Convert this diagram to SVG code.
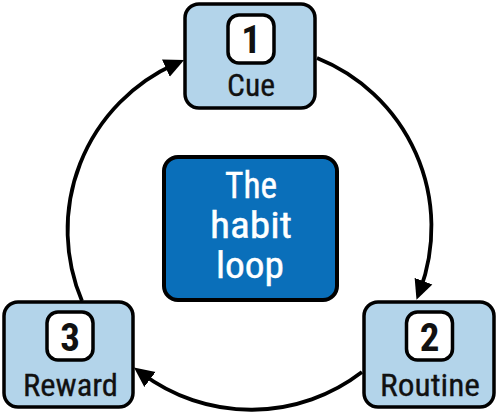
<svg xmlns="http://www.w3.org/2000/svg" width="498" height="412" viewBox="0 0 498 412">
  <defs>
    <marker id="head" markerUnits="userSpaceOnUse" markerWidth="20" markerHeight="20" viewBox="0 0 18 17" refX="9" refY="8.5" orient="auto">
      <path d="M0,0 L18,8.5 L0,17 Z" fill="#000"/>
    </marker>
    <style>
      .step { fill: #b3d4ea; stroke: #000; stroke-width: 3.5; }
      .badge { fill: #fff; stroke: #000; stroke-width: 3.5; }
      .core { fill: #0a6fba; stroke: #000; stroke-width: 4; }
      .lbl { font-family: "Liberation Sans Narrow", "Roboto Condensed", "DejaVu Sans Condensed", sans-serif; font-stretch: condensed; text-anchor: middle; fill: #111; stroke: #111; stroke-width: 0.3; }
      .num { font-size: 39px; font-weight: bold; stroke-width: 0; }
      .name { font-size: 32px; }
      .big { font-size: 36px; fill: #fff; stroke: #fff; stroke-width: 0.4; }
      .arc { fill: none; stroke: #000; stroke-width: 3.8; marker-end: url(#head); }
    </style>
  </defs>

  <!-- connectors: arcs of the loop -->
  <g id="connectors">
    <path class="arc" d="M317,58 A182,182 0 0 1 420,290.5"/>
    <path class="arc" d="M362,372 A182,182 0 0 1 142,373.5"/>
    <path class="arc" d="M82,301 A182,182 0 0 1 175,64"/>
  </g>

  <!-- center node -->
  <g id="habit-loop">
    <rect class="core" x="164" y="157" width="173" height="143" rx="14"/>
    <text class="lbl big" x="251" y="198" textLength="52" lengthAdjust="spacingAndGlyphs">The</text>
    <text class="lbl big" x="251" y="238" textLength="82" lengthAdjust="spacingAndGlyphs">habit</text>
    <text class="lbl big" x="250" y="278" textLength="68" lengthAdjust="spacingAndGlyphs">loop</text>
  </g>

  <!-- step 1 -->
  <g id="cue">
    <rect class="step" x="185" y="4" width="130" height="104" rx="14"/>
    <rect class="badge" x="228" y="15" width="46" height="48" rx="11"/>
    <text class="lbl num" x="251" y="53">1</text>
    <text class="lbl name" x="251" y="96" textLength="48" lengthAdjust="spacingAndGlyphs">Cue</text>
  </g>

  <!-- step 2 -->
  <g id="routine">
    <rect class="step" x="364" y="302" width="130" height="105" rx="14"/>
    <rect class="badge" x="406.5" y="312" width="46" height="48" rx="11"/>
    <text class="lbl num" x="429.5" y="351">2</text>
    <text class="lbl name" x="430" y="396" textLength="100" lengthAdjust="spacingAndGlyphs">Routine</text>
  </g>

  <!-- step 3 -->
  <g id="reward">
    <rect class="step" x="4" y="302" width="129" height="105" rx="14"/>
    <rect class="badge" x="47" y="312" width="46" height="48" rx="11"/>
    <text class="lbl num" x="70" y="351">3</text>
    <text class="lbl name" x="70.5" y="396" textLength="95" lengthAdjust="spacingAndGlyphs">Reward</text>
  </g>
</svg>
